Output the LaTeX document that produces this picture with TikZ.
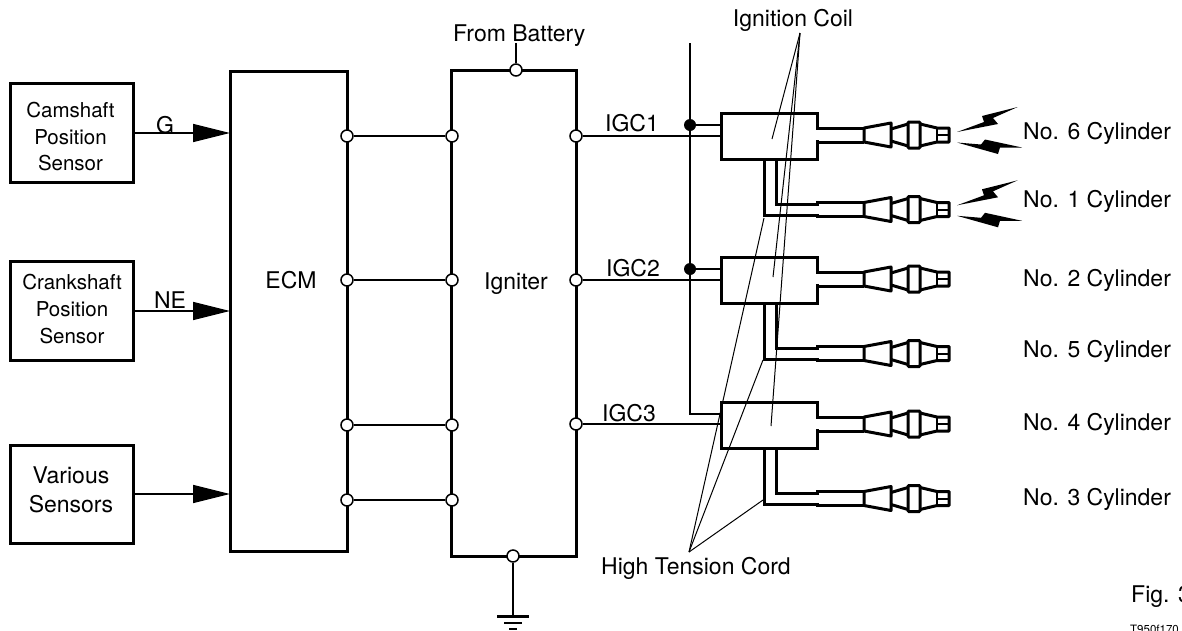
\documentclass[tikz,border=0pt]{standalone}
\usepackage{fontspec}
\setmainfont{TeX Gyre Heros}
\usetikzlibrary{arrows.meta}

\tikzset{
  thickbox/.style={draw,line width=3pt,minimum width=#1,inner sep=0pt,outer sep=0pt},
  sensorbox/.style={thickbox=123pt},
  sensortext/.style={inner sep=0pt,align=center},
  coilbox/.style={thickbox=96pt,minimum height=46pt},
  pin/.style={circle,draw,fill=white,line width=1.5pt,minimum size=12pt,inner sep=0pt},
  dot/.style={circle,fill=black,minimum size=12pt,inner sep=0pt},
  wire/.style={line width=1.5pt},
  leader/.style={line width=1pt},
  cord/.style={line width=3pt,line join=miter},
  sig/.style={line width=1.5pt,-{Triangle[length=37pt,width=18pt]}},
  lab/.style={font=\fontsize{23}{27}\selectfont,inner sep=0pt,anchor=base},
  plug/.pic={
    \draw[line width=3pt,line join=round] (0,-7) -- (27,-12) -- (27,12) -- (0,7) -- cycle;
    \draw[line width=3pt] (27,-6) -- (44,-11) (27,6) -- (44,11);
    \draw[line width=3pt,rounded corners=1pt] (44,-13) rectangle (56,13);
    \draw[line width=3pt,line join=round] (56,-11) -- (73,-7) -- (85,-7) -- (85,7) -- (73,7) -- (56,11);
    \draw[line width=2pt] (73,-7) -- (73,7) (73,0) -- (85,0);
  },
  sparks/.pic={
    \fill (0,0) -- (41,-8) -- (36,-14) -- (60.7,-25) -- (25,-16) -- (27,-10) -- cycle;
    \fill (0,10.5) -- (24,12.5) -- (28,7.5) -- (65,15.5) -- (43,15.5) -- (41,22) -- cycle;
  }
}

\begin{document}
\begin{tikzpicture}[x=1pt,y=-1pt]
  \useasboundingbox (0,0) rectangle (1182,630);
  \clip (0,0) rectangle (1182,630);

  \node[sensorbox,minimum height=99pt] (cam) at (71.5,133) {};
  \node[sensorbox,minimum height=99pt] (crank) at (71.5,311) {};
  \node[sensorbox,minimum height=98pt] (various) at (71.5,494) {};
  \node[sensortext,font=\fontsize{20.5}{26.4}\selectfont] (camtext) at (70.5,136.9) {Camshaft\\Position\\Sensor};
  \node[sensortext,font=\fontsize{20.5}{27}\selectfont] (cranktext) at (72,309.5) {Crankshaft\\Position\\Sensor};
  \node[sensortext,font=\fontsize{23}{29}\selectfont] (varioustext) at (71,490.2) {Various\\Sensors};
  \node[thickbox=117pt,minimum height=480pt] (ecm) at (288.5,311) {};
  \node[thickbox=125pt,minimum height=486pt] (igniter) at (513.5,313) {};
  \node[lab] (ecmlabel) at (291,288) {ECM};
  \node[lab] (ignlabel) at (516,289) {Igniter};

  \draw[sig] (cam.east) -- (cam.east -| ecm.west);
  \draw[sig] (crank.east) -- (crank.east -| ecm.west);
  \draw[sig] (various.east) -- (various.east -| ecm.west);
  \node[lab] (glabel) at (165,133.3) {G};
  \node[lab] (nelabel) at (170,308) {NE};

  \foreach \n/\c in {1/136,2/280,3/425,4/500} {
    \node[pin] (eo\n) at (347,\c) {};
    \node[pin] (ii\n) at (452,\c) {};
    \draw[wire] (eo\n) -- (ii\n);
  }

  \node[pin] (batpin) at (516,70) {};
  \node[pin] (gndpin) at (513,556) {};
  \node[lab] (batlabel) at (519.3,41.7) {From Battery};
  \coordinate (gndbar) at (513,616);
  \draw[wire] (batpin) -- (batpin |- 0,43);
  \draw[wire] (gndpin) -- (gndbar);
  \draw[line width=3pt] (497,616) -- (529,616);
  \draw[line width=2pt] (504,623) -- (522,623);
  \draw[line width=2pt] (509,629) -- (517,629);

  \foreach \n/\c in {A/136,B/280,C/425} {
    \node[coilbox] (coil\n) at (769,\c) {};
    \draw[white,line width=4pt] (817,\c-6) -- (817,\c+4);
    \draw[cord] (817,\c-8) -- (864,\c-8);
    \draw[cord] (817,\c+6) -- (864,\c+6);
    \draw[cord] (776,\c+23) -- (776,\c+68) -- (817,\c+68) -- (817,\c+66.5) -- (864,\c+66.5);
    \draw[cord] (764,\c+23) -- (764,\c+79) -- (817,\c+79) -- (817,\c+80.5) -- (864,\c+80.5);
    \pic at (864,\c-1) {plug};
    \pic at (864,\c+73.5) {plug};
  }
  \pic at (957,132) {sparks};
  \pic at (957,205.3) {sparks};

  \foreach \n/\c in {A/136,B/280,C/424} {
    \node[pin] (io\n) at (576,\c) {};
    \draw[wire] (io\n) -- (io\n -| coil\n.west);
  }
  \node[lab] (igc1) at (632,131.7) {IGC1};
  \node[lab] (igc2) at (633,276.7) {IGC2};
  \node[lab] (igc3) at (629,421.7) {IGC3};

  \coordinate (feedtop) at (690,43);
  \coordinate (feedend) at (690,414);
  \draw[wire] (feedtop) -- (feedend) -- (feedend -| coilC.west);
  \node[dot] (dotA) at (690,125) {};
  \node[dot] (dotB) at (690,269) {};
  \draw[wire] (dotA) -- (dotA -| coilA.west);
  \draw[wire] (dotB) -- (dotB -| coilB.west);

  \node[lab] (coillabel) at (793,26.7) {Ignition Coil};
  \node[lab] (cordlabel) at (696,574) {High Tension Cord};
  \coordinate (coilfan) at (800,33);
  \coordinate (cordfan) at (689,552);
  \draw[leader] (coilfan) -- (772,139);
  \draw[leader] (coilfan) -- (773,277);
  \draw[leader] (coilfan) -- (771,426);
  \draw[leader] (cordfan) -- (764,218);
  \draw[leader] (cordfan) -- (763,360);
  \draw[leader] (cordfan) -- (763,500);

  \foreach \c/\t in {139/6,207.7/1,286.3/2,357.3/5,430.7/4,505/3}
    \node[lab,anchor=base west] (cyl\t) at (1023,\c) {No. \t\ Cylinder};

  \node[lab,anchor=base west] (figlabel) at (1131,602.7) {Fig. 3};
  \node[anchor=base west,inner sep=0pt,font=\fontsize{11.5}{12}\selectfont] (figcode) at (1130,633.5) {T950f170};
\end{tikzpicture}
\end{document}
